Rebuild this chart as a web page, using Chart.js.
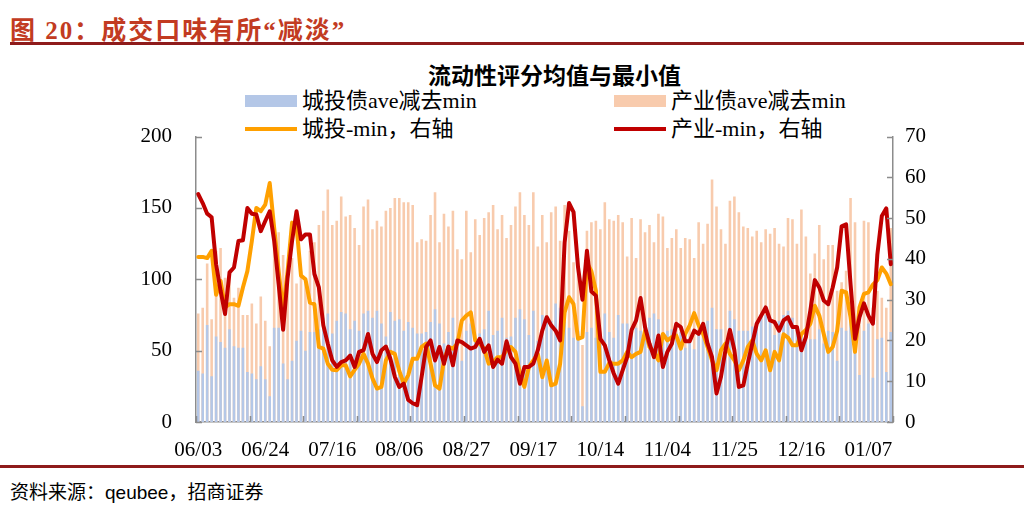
<!DOCTYPE html>
<html>
<head>
<meta charset="utf-8">
<script src="https://cdn.jsdelivr.net/npm/chart.js@4.4.0/dist/chart.umd.min.js"></script>
<style>
  body { margin: 0; width: 1024px; height: 517px; background: #fff; position: relative; overflow: hidden;
         font-family: "Liberation Serif", "Noto Sans CJK SC", serif; color: #000; }
  #head { position: absolute; left: 10px; top: 10px; font-size: 25px; font-weight: bold; color: #C23B22; letter-spacing: 2px; }
  #topline { position: absolute; left: 10px; right: 0; top: 42px; height: 3px; background: #8E1B1B; }
  #title { position: absolute; left: 428px; top: 57px; font-size: 23px; font-weight: bold;
           font-family: "Noto Sans CJK SC", sans-serif; }
  .lg { position: absolute; font-size: 22px; line-height: 26px; white-space: nowrap; }
  .sw { position: absolute; }
  #botline { position: absolute; left: 0; right: 0; top: 465px; height: 3px; background: #8E1B1B; }
  #src { position: absolute; left: 10px; top: 477px; font-size: 19px; }
  #src span { font-family: "Liberation Sans", Arial, sans-serif; }
  #c { position: absolute; left: 100px; top: 100px; }
</style>
</head>
<body>
<div id="head">图 20：成交口味有所“减淡”</div>
<div id="topline"></div>
<div id="title">流动性评分均值与最小值</div>
<div id="legend"></div>
<canvas id="c" width="850" height="365"></canvas>
<div id="botline"></div>
<div id="src">资料来源：<span>qeubee</span>，招商证券</div>
<script>
const tickLabels = ["06/03", "06/24", "07/16", "08/06", "08/27", "09/17", "10/14", "11/04", "11/25", "12/16", "01/07"];
const labelStep = 15;

// 城投债ave减去min (left axis)
const cityAve = [
  36,34,68,32,60,56,52,65,53,52,52,35,34,30,39,30,18,66,66,41,30,43,57,64,50,
  63,63,65,73,76,62,71,77,76,65,71,64,76,78,73,78,69,60,77,71,72,64,70,66,62,62,
  63,70,79,69,55,63,73,59,43,64,69,57,62,65,78,61,64,73,59,60,73,79,72,61,78,57,
  75,73,71,83,80,70,66,59,64,11,63,66,59,61,76,63,59,75,69,69,62,66,64,69,73,76,
  72,59,64,65,62,63,52,59,51,64,69,71,80,65,65,55,78,72,64,64,64,67,70,75,75,
  70,61,71,75,78,73,66,63,62,58,58,65,55,64,63,43,66,64,75,64,33,64,69,31,58,59,35,63
];
// 产业债ave减去min (left axis)
const indAve = [
  76,80,111,72,120,122,101,104,87,94,75,75,83,69,88,71,53,134,133,117,106,115,97,106,101,
  120,126,138,148,163,138,141,158,144,145,136,124,151,156,135,141,137,148,150,157,157,154,154,152,126,128,
  127,145,161,126,146,137,148,121,114,148,119,142,131,143,147,152,135,145,129,138,151,161,145,138,161,123,
  145,126,147,151,127,152,134,112,115,54,134,140,141,135,154,142,141,145,140,116,143,115,142,133,138,126,
  146,144,122,129,135,122,129,128,115,140,125,139,170,151,135,125,155,158,147,137,136,130,134,126,135,
  132,136,125,123,143,142,125,149,130,104,118,138,114,124,124,92,98,106,157,140,78,141,140,80,92,87,80,136
];
// 城投-min (right axis)
const cityMin = [
  40.5,40.5,40.2,42,31.2,34.6,28.1,28.9,28.9,28.5,33,37,44.4,52.5,51.7,53.3,58.6,47.6,37,27.3,37,48.9,48,35.9,35,
  29.3,28.9,18.4,18,14.3,12.8,12.7,13.9,13.9,11.2,12.8,14.3,16.7,14.3,10.7,8.2,8.6,15.1,17.2,16.7,12.5,9.4,11.5,15.5,15.5,18.4,19.2,
  14.3,9,8.2,15.1,18.4,18,19.2,24.9,26.1,26.9,20,19.2,18,14.3,14.7,15.9,15.9,17.6,18.4,17.2,11.9,8.6,13.5,15.1,16.7,
  11,15.1,9,9.4,14.3,26.9,30.6,28.9,20.4,20.8,39.1,37,32.2,12.3,12.3,14.5,14.3,14.3,15.1,17.2,15.9,16.7,17.2,22.4,18.4,17.2,
  15.1,21.6,20,20.8,21.2,18,21.6,23.7,26.7,23.7,21.6,18.4,15.1,12.7,17.6,19.2,16.7,15.1,12.7,15.1,18.4,20,16.7,15.1,17.6,
  12.7,17.2,15.1,21.5,20.7,18.8,18.8,21.6,22.6,24.1,28.5,26.1,21.6,17.2,18.4,22.4,32.2,31.8,25.7,17.2,28.1,31.4,31.8,33.7,34.8,37.9,36.4,33.8
];
// 产业-min (right axis)
const indMin = [
  55.9,53.7,51.1,50.2,38.7,32.2,26.5,36.7,37.9,44.4,44.6,52.5,51.1,50.9,46.8,49.3,51.7,44.4,33.8,22.6,35.4,44.4,51.7,44.8,46,
  46,36.3,33,23.7,19.2,15.1,13.5,14.7,15.1,16.3,13.5,17.2,17.6,21.6,16.7,14.7,17.6,18.5,15.5,11.1,8.6,9.4,5.4,4.6,4.1,11.1,18.4,
  20,15.1,18.4,14.3,18.5,13.9,20,19.6,18.8,18,18.4,20.4,17.2,18.8,13.5,15.3,14.3,19.8,15.9,14.3,9.4,13.5,13.5,14.3,17.6,
  22.4,25.7,23.7,22.4,20,44,53.7,51.5,38,30,42,32,31,20.4,18.8,15.1,11.9,9.4,12.7,15.9,22.6,24.9,30.4,23.3,19.2,15.9,
  21.2,13.5,17.2,19.2,24.1,23.3,19.8,19.8,22.4,21.6,24.1,19.2,15.9,7,11.1,17.6,22.6,17.6,8.6,9,14.3,19.2,24.1,26.1,28.1,
  24.9,24.5,22.4,24.9,25.7,23.3,23.3,17.6,20.8,27.3,34.8,33,29.8,28.9,33,37.9,48,48.5,33.8,20.4,25.7,29.1,26.1,24.1,41.1,50.5,52.4,38.7
];

const labels = cityAve.map((v, i) => i % labelStep === 0 ? (tickLabels[i / labelStep] || "") : "");

const blue = "#B4C7E7", peach = "#F8CBAD", orange = "#FFA000", red = "#C00000";
const axisGrey = "#8c8c8c";
const tickFont = { family: "Liberation Serif", size: 21 };

// legend (2 x 2)
const legendItems = [
  { text: "城投债ave减去min", color: blue, bar: true, x: 245, y: 88 },
  { text: "产业债ave减去min", color: peach, bar: true, x: 614, y: 88 },
  { text: "城投-min，右轴", color: orange, bar: false, x: 245, y: 116 },
  { text: "产业-min，右轴", color: red, bar: false, x: 614, y: 116 }
];
const lg = document.getElementById("legend");
legendItems.forEach(it => {
  const sw = document.createElement("div");
  sw.className = "sw";
  sw.style.left = it.x + "px";
  sw.style.width = "52px";
  sw.style.background = it.color;
  if (it.bar) { sw.style.top = (it.y + 7) + "px"; sw.style.height = "12px"; }
  else { sw.style.top = (it.y + 11) + "px"; sw.style.height = "4px"; }
  lg.appendChild(sw);
  const t = document.createElement("div");
  t.className = "lg";
  t.style.left = (it.x + 57) + "px";
  t.style.top = it.y + "px";
  t.textContent = it.text;
  lg.appendChild(t);
});

// inward tick marks like the original
const innerTicks = {
  id: "innerTicks",
  afterDraw(chart) {
    const { ctx, chartArea: a, scales } = chart;
    ctx.save();
    ctx.strokeStyle = axisGrey;
    ctx.lineWidth = 1.5;
    ctx.beginPath();
    scales.y.ticks.forEach(t => {
      const y = Math.round(scales.y.getPixelForValue(t.value)) + 0.5;
      ctx.moveTo(a.left, y); ctx.lineTo(a.left + 6, y);
    });
    scales.y1.ticks.forEach(t => {
      const y = Math.round(scales.y1.getPixelForValue(t.value)) + 0.5;
      ctx.moveTo(a.right, y); ctx.lineTo(a.right - 6, y);
    });
    const n = labels.length;
    for (let i = 0; i <= n; i += 12) {
      const x = Math.round(a.left + i * a.width / n) + 0.5;
      ctx.moveTo(x, a.bottom); ctx.lineTo(x, a.bottom - 6);
    }
    ctx.stroke();
    ctx.restore();
  }
};

new Chart("c", {
  type: "bar",
  data: {
    labels: labels,
    datasets: [
      { type: "line", label: "产业-min，右轴", data: indMin, yAxisID: "y1", borderColor: red,
        borderWidth: 4, pointRadius: 0, tension: 0, order: 0 },
      { type: "line", label: "城投-min，右轴", data: cityMin, yAxisID: "y1", borderColor: orange,
        borderWidth: 4, pointRadius: 0, tension: 0, order: 1 },
      { label: "城投债ave减去min", data: cityAve, yAxisID: "y", backgroundColor: blue,
        grouped: false, barPercentage: 0.58, categoryPercentage: 1, order: 2 },
      { label: "产业债ave减去min", data: indAve, yAxisID: "y", backgroundColor: peach,
        grouped: false, barPercentage: 0.58, categoryPercentage: 1, order: 3 }
    ]
  },
  options: {
    responsive: false,
    animation: false,
    devicePixelRatio: 1,
    layout: { padding: { top: 5, left: 0, right: 0, bottom: 0 } },
    plugins: { legend: { display: false }, tooltip: { enabled: false } },
    elements: { line: { borderJoinStyle: "round", borderCapStyle: "round" } },
    scales: {
      x: {
        offset: true,
        grid: { display: false },
        border: { display: true, color: axisGrey, width: 1.5 },
        ticks: { autoSkip: false, maxRotation: 0, minRotation: 0, padding: 8, color: "#000", font: tickFont },
        afterFit: s => { s.height = 43; }
      },
      y: {
        position: "left",
        min: 0, max: 200,
        ticks: { stepSize: 50, padding: 24, color: "#000", font: tickFont },
        grid: { display: false, drawTicks: false },
        border: { display: true, color: axisGrey, width: 1.5 },
        afterFit: s => { s.width = 96; }
      },
      y1: {
        position: "right",
        min: 0, max: 70,
        ticks: { stepSize: 10, padding: 12, color: "#000", font: tickFont },
        grid: { display: false, drawTicks: false },
        border: { display: true, color: axisGrey, width: 1.5 },
        afterFit: s => { s.width = 57; }
      }
    }
  },
  plugins: [innerTicks]
});
</script>
</body>
</html>
